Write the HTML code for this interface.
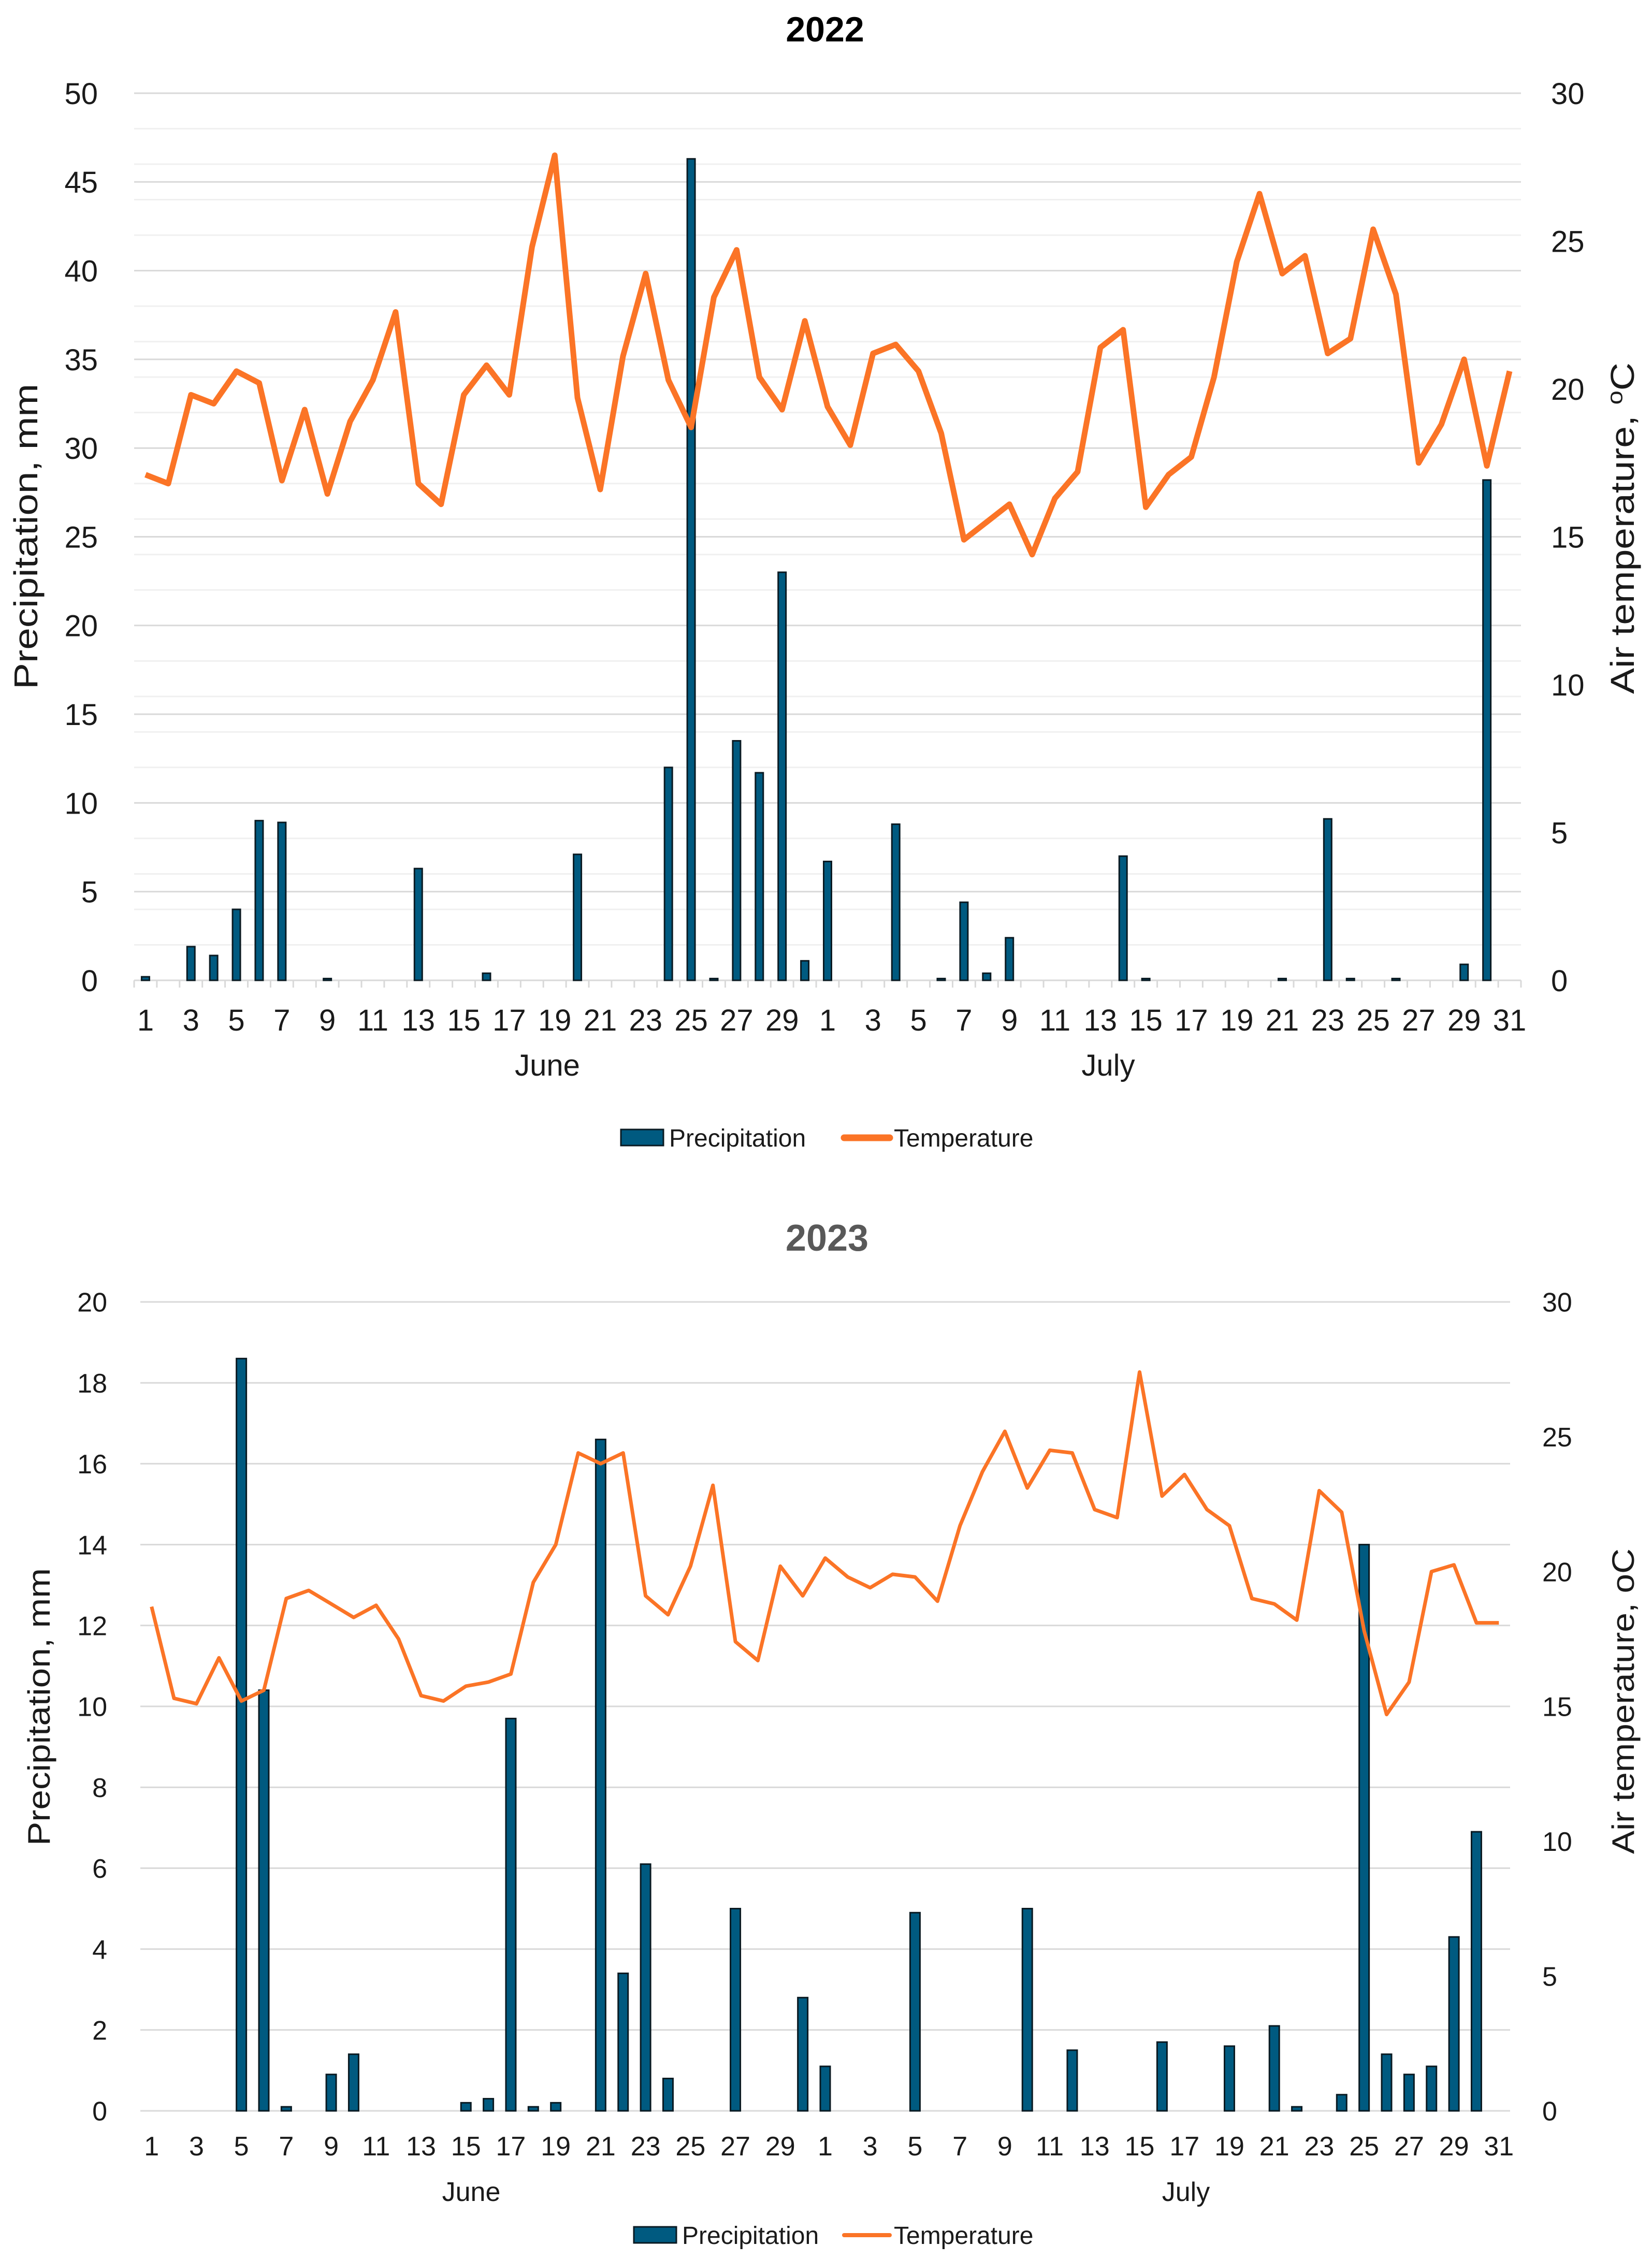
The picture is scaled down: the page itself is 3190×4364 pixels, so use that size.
<!DOCTYPE html>
<html><head><meta charset="utf-8"><style>
html,body{margin:0;padding:0;background:#fff;}
svg{display:block;font-family:"Liberation Sans",sans-serif;}
</style></head><body>
<svg id="chart" width="3190" height="4364" viewBox="0 0 3190 4364" xmlns="http://www.w3.org/2000/svg"></svg>
<script>
const categoriesJune = [1,2,3,4,5,6,7,8,9,10,11,12,13,14,15,16,17,18,19,20,21,22,23,24,25,26,27,28,29,30];
const categoriesJuly = [1,2,3,4,5,6,7,8,9,10,11,12,13,14,15,16,17,18,19,20,21,22,23,24,25,26,27,28,29,30,31];
const precip2022 = [0.2,0,1.9,1.4,4.0,9.0,8.9,0,0.1,0,0,0,6.3,0,0,0.4,0,0,0,7.1,0,0,0,12.0,46.3,0.1,13.5,11.7,23.0,1.1,
  6.7,0,0,8.8,0,0.1,4.4,0.4,2.4,0,0,0,0,7.0,0.1,0,0,0,0,0,0.1,0,9.1,0.1,0,0.1,0,0,0.9,28.2,0];
const temp2022 = [17.1,16.8,19.8,19.5,20.6,20.2,16.9,19.3,16.45,18.9,20.3,22.6,16.8,16.1,19.8,20.8,19.8,24.8,27.9,19.7,16.6,21.1,23.9,20.3,18.7,23.1,24.7,20.4,19.3,22.3,
  19.4,18.1,21.2,21.5,20.6,18.5,14.9,15.5,16.1,14.4,16.3,17.2,21.4,22.0,16.0,17.1,17.7,20.4,24.3,26.6,23.9,24.5,21.2,21.7,25.4,23.2,17.5,18.8,21.0,17.4,20.6];
const precip2023 = [0,0,0,0,18.6,10.4,0.1,0,0.9,1.4,0,0,0,0,0.2,0.3,9.7,0.1,0.2,0,16.6,3.4,6.1,0.8,0,0,5.0,0,0,2.8,
  1.1,0,0,0,4.9,0,0,0,0,5.0,0,1.5,0,0,0,1.7,0,0,1.6,0,2.1,0.1,0,0.4,14.0,1.4,0.9,1.1,4.3,6.9,0];
const temp2023 = [18.7,15.3,15.1,16.8,15.2,15.6,19.0,19.3,18.8,18.3,18.75,17.5,15.4,15.2,15.75,15.9,16.2,19.6,21.0,24.4,24.0,24.4,19.1,18.4,20.2,23.2,17.4,16.7,20.2,19.1,
  20.5,19.8,19.4,19.9,19.8,18.9,21.7,23.7,25.2,23.1,24.5,24.4,22.3,22.0,27.4,22.8,23.6,22.3,21.7,19.0,18.8,18.2,23.0,22.2,17.8,14.7,15.9,20.0,20.25,18.1,18.1];
const precipTicks2022 = [0,5,10,15,20,25,30,35,40,45,50];
const tempTicks = [0,5,10,15,20,25,30];
const precipTicks2023 = [0,2,4,6,8,10,12,14,16,18,20];

const NS="http://www.w3.org/2000/svg";
const svg=document.getElementById('chart');
function mk(tag,attrs,parent,text){const e=document.createElementNS(NS,tag);for(const k in attrs)e.setAttribute(k,attrs[k]);if(text!==undefined)e.textContent=text;(parent||svg).appendChild(e);return e;}

function drawChart(cfg){
  const g=mk('g',{});
  
  
  const cats=categoriesJune.concat(categoriesJuly);
  const n=cats.length;
  const step=(cfg.right-cfg.left)/n;
  const xC=i=>cfg.left+step*(i+0.5);
  const yP=v=>cfg.y0+(cfg.yTop-cfg.y0)*v/cfg.pMax;
  const yT=v=>cfg.y0+(cfg.yTop-cfg.y0)*v/30;
  // minor grid
  if(cfg.minor){for(let v=0;v<=cfg.pMax;v+=cfg.minor){if(v%cfg.major===0)continue;const l=mk('line',{x1:cfg.left,x2:cfg.right,y1:yP(v),y2:yP(v),stroke:'#f0f0f0','stroke-width':3},g);}}
  cfg.pTicks.forEach(v=>{
    const l=mk('line',{x1:cfg.left,x2:cfg.right,y1:yP(v),y2:yP(v),stroke:'#d9d9d9','stroke-width':3},g);
    
    const t=mk('text',{x:cfg.lblR,y:yP(v)+cfg.fs*0.36,'text-anchor':'end','font-size':cfg.fs,fill:'#1a1a1a'},g,String(v));
    
  });
  tempTicks.forEach(v=>{
    const t=mk('text',{x:cfg.rLblL,y:yT(v)+cfg.fs*0.36,'text-anchor':'start','font-size':cfg.fs,fill:'#1a1a1a'},g,String(v));
    
  });
  // x tick marks
  if(cfg.tickMarks){for(let i=0;i<=n;i++){const x=cfg.left+step*i;const l=mk('line',{x1:x,x2:x,y1:cfg.y0,y2:cfg.y0+14,stroke:'#d9d9d9','stroke-width':3},g);}}
  // bars
  const precip=cfg.precip;
  precip.forEach((v,i)=>{
    if(v<=0)return;
    const y=yP(v);
    const r=mk('rect',{x:xC(i)-cfg.bw/2,y:y,width:cfg.bw,height:cfg.y0-y,fill:'#005a80',stroke:'#0a1a22','stroke-width':3},g);
    
  });
  // line
  const pts=cfg.temp.map((v,i)=>xC(i).toFixed(1)+','+yT(v).toFixed(1)).join(' ');
  const pl=mk('polyline',{points:pts,fill:'none',stroke:'#fb7426','stroke-width':cfg.lw,'stroke-linejoin':'round'},g);
  
  // x labels
  cats.forEach((c,i)=>{
    if(i%2!==0 && i<30)return;
    if(i>=30 && (i-30)%2!==0)return;
    const t=mk('text',{x:xC(i),y:cfg.xLblY,'text-anchor':'middle','font-size':cfg.fs,fill:'#1a1a1a'},g,String(c));
    
  });
  const jn=mk('text',{x:cfg.juneX,y:cfg.monthY,'text-anchor':'middle','font-size':cfg.fs,fill:'#1a1a1a'},g,'June');
  
  const jl=mk('text',{x:cfg.julyX,y:cfg.monthY,'text-anchor':'middle','font-size':cfg.fs,fill:'#1a1a1a'},g,'July');
  
  // title
  const tt=mk('text',{x:cfg.titleX,y:cfg.titleY,'text-anchor':'middle','font-size':cfg.titleFs,'font-weight':'bold',fill:cfg.titleColor},g,cfg.title);
  
  // axis titles
  const at=mk('text',{x:0,y:0,transform:`translate(${cfg.lTitleX},${cfg.lTitleY}) rotate(-90)`,'text-anchor':'middle','font-size':cfg.atFs,fill:'#1a1a1a',textLength:cfg.lTitleLen,lengthAdjust:'spacingAndGlyphs'},g,'Precipitation, mm');
  
  const rt=mk('text',{x:0,y:0,transform:`translate(${cfg.rTitleX},${cfg.rTitleY}) rotate(-90)`,'text-anchor':'middle','font-size':cfg.atFs,fill:'#1a1a1a',textLength:cfg.rTitleLen,lengthAdjust:'spacingAndGlyphs'},g);
  
  rt.appendChild(document.createTextNode('Air temperature, '));
  if(cfg.degSup){const s=mk('tspan',{'font-size':cfg.atFs*0.65,dy:-cfg.atFs*0.35},rt,'o');const s2=mk('tspan',{'font-size':cfg.atFs,dy:cfg.atFs*0.35},rt,'C');}
  else rt.appendChild(document.createTextNode('oC'));
  // legend
  const lg=mk('g',{},g);
  const sw=mk('rect',{x:cfg.legX,y:cfg.legY-16,width:82,height:31,fill:'#005a80',stroke:'#0a1a22','stroke-width':3},lg);
  
  const lt=mk('text',{x:cfg.legX+93,y:cfg.legY+17,'font-size':48,fill:'#1a1a1a'},lg,'Precipitation');
  
  const ll=mk('line',{x1:cfg.legX2,x2:cfg.legX2+88,y1:cfg.legY,y2:cfg.legY,stroke:'#fb7426','stroke-width':cfg.legLw,'stroke-linecap':'round'},lg);
  
  const lt2=mk('text',{x:cfg.legX2+96,y:cfg.legY+17,'font-size':48,fill:'#1a1a1a'},lg,'Temperature');
  
}

drawChart({name:'chart-2022',left:259,right:2937,y0:1893,yTop:180,pMax:50,pTicks:precipTicks2022,major:5,minor:2,
  precip:precip2022,temp:temp2022,bw:15,lw:11,fs:58,lblR:189,rLblL:2995,tickMarks:true,
  xLblY:1990,monthY:2077,juneX:1057,julyX:2140,title:'2022',titleX:1593,titleY:80,titleFs:68,titleColor:'#000',
  atFs:64,lTitleX:72,lTitleY:1036,lTitleLen:590,rTitleX:3155,rTitleY:1020,rTitleLen:640,degSup:true,
  legX:1199,legY:2197,legX2:1630,legLw:13});
drawChart({name:'chart-2023',left:271,right:2916,y0:4076,yTop:2514,pMax:20,pTicks:precipTicks2023,major:2,minor:0,
  precip:precip2023,temp:temp2023,bw:19,lw:7,fs:52,lblR:207,rLblL:2978,tickMarks:false,
  xLblY:4162,monthY:4250,juneX:910,julyX:2290,title:'2023',titleX:1597,titleY:2415,titleFs:72,titleColor:'#595959',
  atFs:60,lTitleX:96,lTitleY:3296,lTitleLen:536,rTitleX:3155,rTitleY:3285,rTitleLen:590,degSup:false,
  legX:1224,legY:4316,legX2:1630,legLw:8});
</script>
</body></html>
